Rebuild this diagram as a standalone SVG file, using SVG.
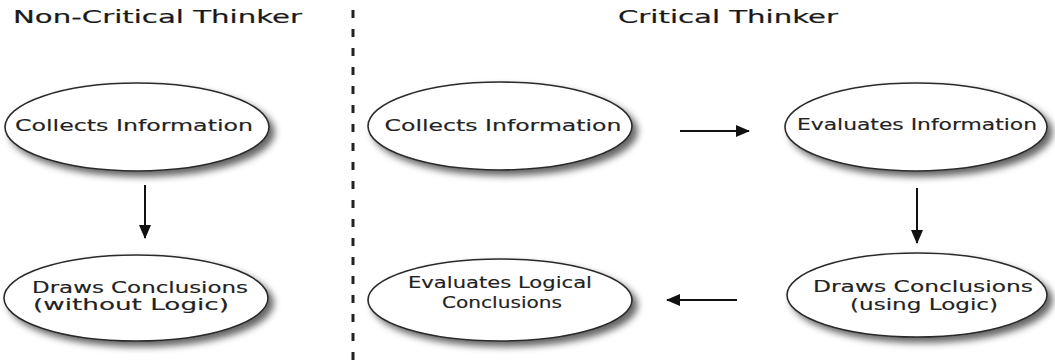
<svg xmlns="http://www.w3.org/2000/svg" width="1055" height="361" viewBox="0 0 1055 361">
  <style>
    .bubble { fill: #ffffff; stroke: #2a2a2a; stroke-width: 1.6; filter: url(#shadow); }
    .label { font-family: "DejaVu Sans", "Liberation Sans", sans-serif; font-size: 16px; fill: #222222; stroke: #222222; stroke-width: 0.15; text-anchor: middle; }
    .title { font-family: "DejaVu Sans", "Liberation Sans", sans-serif; font-size: 18px; fill: #1a1a1a; stroke: #1a1a1a; stroke-width: 0.2; }
    .flow { stroke: #111111; stroke-width: 2; fill: none; marker-end: url(#head); }
    .divider { stroke: #222222; stroke-width: 3; stroke-dasharray: 8 11; }
  </style>
  <defs>
    <filter id="shadow" x="-10%" y="-20%" width="125%" height="150%">
      <feDropShadow dx="5" dy="5" stdDeviation="3.5" flood-color="#000000" flood-opacity="0.6"/>
    </filter>
    <marker id="head" viewBox="0 0 14 12" refX="13" refY="6" markerWidth="14" markerHeight="12" markerUnits="userSpaceOnUse" orient="auto">
      <path d="M0,0 L14,6 L0,12 Z" fill="#111111"/>
    </marker>
  </defs>

  <rect width="1055" height="361" fill="#ffffff"/>

  <!-- column headings and divider -->
  <text class="title" x="13" y="23" textLength="289" lengthAdjust="spacingAndGlyphs">Non-Critical Thinker</text>
  <text class="title" x="618" y="23" textLength="220" lengthAdjust="spacingAndGlyphs">Critical Thinker</text>
  <line class="divider" x1="353" y1="10" x2="353" y2="361"/>

  <!-- left column: non-critical thinker -->
  <g id="nc-collects">
    <ellipse class="bubble" cx="137" cy="127" rx="132" ry="44"/>
    <text class="label" x="134" y="131" textLength="238" lengthAdjust="spacingAndGlyphs">Collects Information</text>
  </g>
  <g id="nc-draws">
    <ellipse class="bubble" cx="136" cy="298" rx="132" ry="43"/>
    <text class="label" x="140" y="293" textLength="216" lengthAdjust="spacingAndGlyphs">Draws Conclusions</text>
    <text class="label" x="131" y="310" textLength="196" lengthAdjust="spacingAndGlyphs">(without Logic)</text>
  </g>

  <!-- right column: critical thinker -->
  <g id="ct-collects">
    <ellipse class="bubble" cx="500" cy="126" rx="132" ry="44"/>
    <text class="label" x="503" y="131" textLength="237" lengthAdjust="spacingAndGlyphs">Collects Information</text>
  </g>
  <g id="ct-evaluates">
    <ellipse class="bubble" cx="916" cy="127" rx="131" ry="44"/>
    <text class="label" x="917" y="130" textLength="240" lengthAdjust="spacingAndGlyphs">Evaluates Information</text>
  </g>
  <g id="ct-draws">
    <ellipse class="bubble" cx="917" cy="295" rx="130" ry="42"/>
    <text class="label" x="923" y="292" textLength="220" lengthAdjust="spacingAndGlyphs">Draws Conclusions</text>
    <text class="label" x="924" y="310" textLength="148" lengthAdjust="spacingAndGlyphs">(using Logic)</text>
  </g>
  <g id="ct-evaluates-logical">
    <ellipse class="bubble" cx="500" cy="300" rx="132" ry="41"/>
    <text class="label" x="500" y="288" font-size="15" textLength="184" lengthAdjust="spacingAndGlyphs">Evaluates Logical</text>
    <text class="label" x="502" y="308" font-size="15" textLength="120" lengthAdjust="spacingAndGlyphs">Conclusions</text>
  </g>

  <!-- connectors -->
  <g id="connectors">
    <line class="flow" x1="145" y1="185" x2="145" y2="238"/>
    <line class="flow" x1="680" y1="131" x2="749" y2="131"/>
    <line class="flow" x1="917" y1="188" x2="917" y2="243"/>
    <line class="flow" x1="737" y1="300" x2="667" y2="300"/>
  </g>
</svg>
